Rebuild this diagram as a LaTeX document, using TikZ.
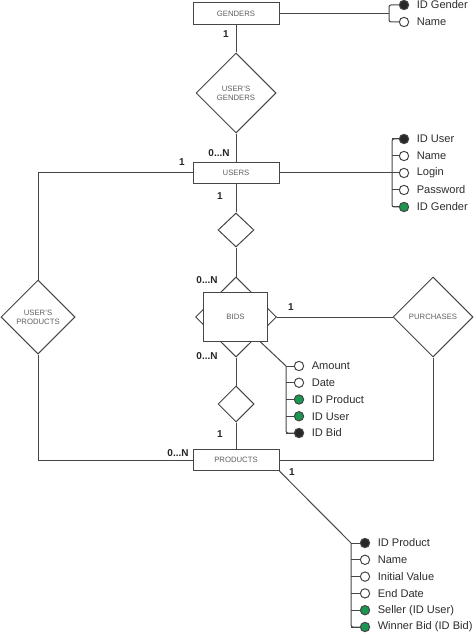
\documentclass[tikz,border=0pt]{standalone}
\usepackage{fontspec}
\setmainfont{Liberation Sans}
\usetikzlibrary{shapes.geometric, positioning, calc}
\definecolor{lineGray}{RGB}{70, 70, 70}
\definecolor{boxText}{RGB}{95, 95, 95}
\definecolor{attrText}{RGB}{45, 45, 45}
\definecolor{keyDark}{RGB}{40, 40, 40}
\definecolor{keyGreen}{RGB}{25, 150, 80}

\begin{document}
\begin{tikzpicture}[x=0.75pt, y=-0.75pt,
        entity/.style={rectangle, draw=lineGray, fill=white, line width=0.75pt, minimum width=64.5pt, minimum height=16pt, inner sep=1pt, font=\fontsize{5.8}{6.8}\selectfont, text=boxText},
        relation/.style={diamond, draw=lineGray, fill=white, line width=0.75pt, inner sep=0pt, align=center, font=\fontsize{5.8}{6.8}\selectfont, text=boxText},
        link/.style={draw=lineGray, line width=0.75pt},
        bracket/.style={link, rounded corners=1.5pt},
        attr/.style={circle, draw=lineGray, line width=0.75pt, inner sep=0pt, minimum size=7pt},
        attrlabel/.style={inner sep=1pt, font=\fontsize{8.3}{10}\selectfont, text=attrText},
        card/.style={inner sep=0pt, font=\fontsize{7.5}{9}\selectfont\bfseries, text=black!85}
    ]
        \useasboundingbox (0,0) rectangle (474,634);

        % entities and relations
        \node[entity] (genders) at (236,13.5) {GENDERS};
        \node[relation, minimum width=60pt, minimum height=60pt] (usersGenders) at (236,93) {USER'S\\GENDERS};
        \node[entity] (users) at (236,173) {USERS};
        \node[relation, minimum width=27pt, minimum height=25.5pt] (usersBids) at (236,230) {};
        \node[relation, minimum width=60.75pt, minimum height=60pt] (bidsRel) at (236,317) {};
        \node[entity, minimum width=48pt, minimum height=36.75pt] (bids) at (235.5,316.5) {BIDS};
        \node[relation, minimum width=27pt, minimum height=27pt] (bidsProducts) at (236,404) {};
        \node[entity] (products) at (236,460) {PRODUCTS};
        \node[relation, minimum width=60pt, minimum height=60pt] (purchases) at (433,317) {PURCHASES};
        \node[relation, minimum width=55.5pt, minimum height=55.5pt] (usersProducts) at (38,317) {USER'S\\PRODUCTS};

        \draw[link] (genders) -- (usersGenders);
        \draw[link] (usersGenders) -- (users);
        \draw[link] (users) -- (usersBids);
        \draw[link] (usersBids) -- (bidsRel.north);
        \draw[link] (bidsRel.south) -- (bidsProducts);
        \draw[link] (bidsProducts) -- (products);
        \draw[link] (bidsRel.east) -- (purchases.west);
        \draw[link] (purchases.south) |- (products.east);
        \draw[link] (users.west) -| (usersProducts.north);
        \draw[link] (usersProducts.south) |- (products.west);

        % cardinalities
        \node[card] at (226,34) {1};
        \node[card] at (219,153) {0...N};
        \node[card] at (182,162) {1};
        \node[card] at (220,196) {1};
        \node[card] at (207,280) {0...N};
        \node[card] at (291,307) {1};
        \node[card] at (207,356) {0...N};
        \node[card] at (220,434) {1};
        \node[card] at (178,453) {0...N};
        \node[card] at (292,472) {1};

        % attributes of genders
        \coordinate (gBar) at (389,13.5);
        \foreach \txt/\clr [count=\i] in {ID Gender/keyDark, Name/white} {
            \node[attr, fill=\clr] (g\i) at (404,{5+(\i-1)*17}) {};
            \node[attrlabel, right=4.5pt of g\i] {\txt};
        }
        \draw[bracket] (g1.west) -| (gBar) |- (g2.west);
        \draw[link] (genders.east) -- (gBar);

        % attributes of users
        \coordinate (uBar) at (392,173);
        \foreach \txt/\clr [count=\i] in {ID User/keyDark, Name/white, Login/white, Password/white, ID Gender/keyGreen} {
            \node[attr, fill=\clr] (u\i) at (404,{139+(\i-1)*17}) {};
            \node[attrlabel, right=4.5pt of u\i] {\txt};
            \draw[link] (uBar |- u\i) -- (u\i);
        }
        \draw[bracket] (u1.west) -| (uBar) |- (u5.west);
        \draw[link] (users.east) -- (uBar);

        % attributes of bids
        \coordinate (bBar) at (286,366);
        \foreach \txt/\clr [count=\i] in {Amount/white, Date/white, ID Product/keyGreen, ID User/keyGreen, ID Bid/keyDark} {
            \node[attr, fill=\clr] (b\i) at (299,{366+(\i-1)*16.75}) {};
            \node[attrlabel, right=4.5pt of b\i] {\txt};
            \draw[link] (bBar |- b\i) -- (b\i);
        }
        \draw[bracket] (bBar) -- (bBar |- b5) -- (b5.west);
        \draw[link] ($(bids.south east)+(-8,0)$) -- (bBar);

        % attributes of products
        \coordinate (pBar) at (351,543);
        \foreach \txt/\clr [count=\i] in {ID Product/keyDark, Name/white, Initial Value/white, End Date/white, Seller (ID User)/keyGreen, Winner Bid (ID Bid)/keyGreen} {
            \node[attr, fill=\clr] (p\i) at (365,{543+(\i-1)*16.8}) {};
            \node[attrlabel, right=4.5pt of p\i] {\txt};
            \draw[link] (pBar |- p\i) -- (p\i);
        }
        \draw[bracket] (pBar) -- (pBar |- p6) -- (p6.west);
        \draw[link] (products.south east) -- (pBar);
    \end{tikzpicture}
\end{document}
